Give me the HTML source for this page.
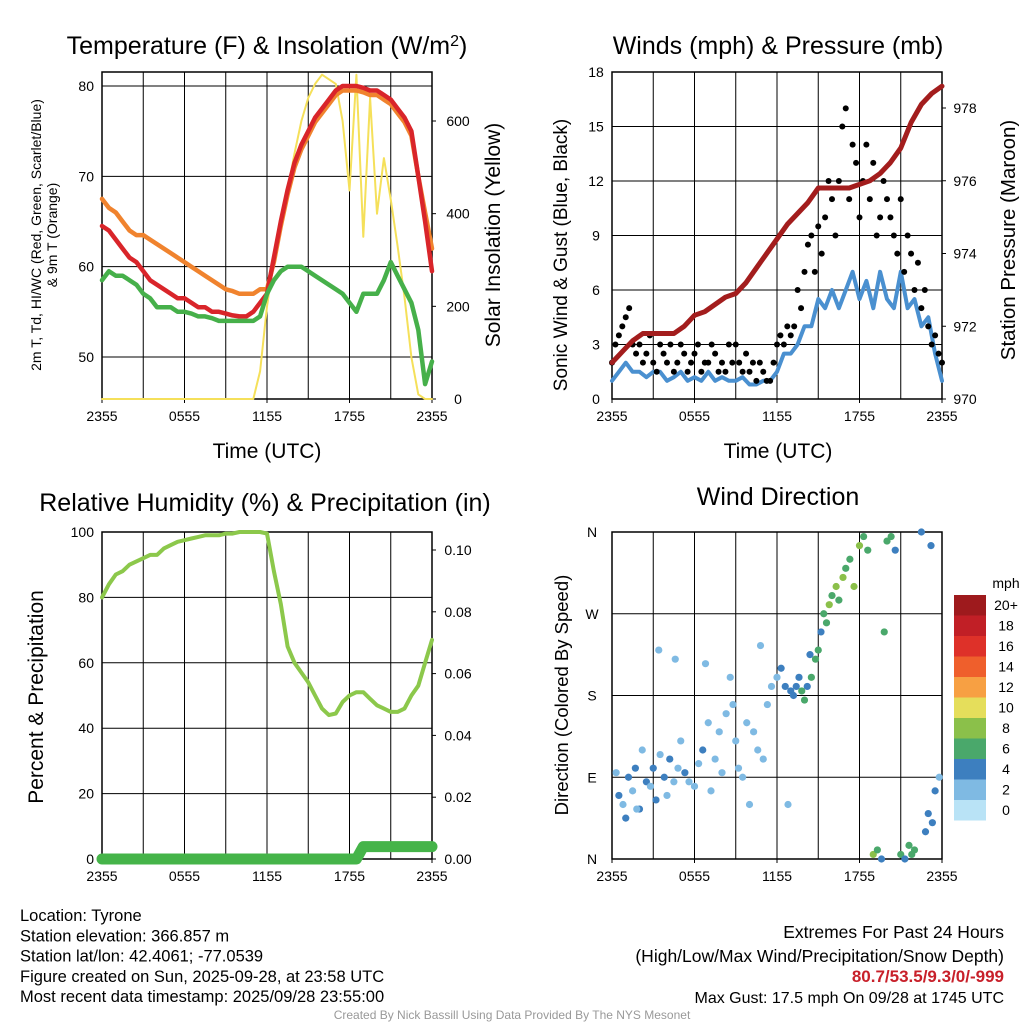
<!DOCTYPE html>
<html><head><meta charset="utf-8"><style>
body{margin:0;background:#fff;font-family:"Liberation Sans",sans-serif}
svg text{font-family:"Liberation Sans",sans-serif;fill:#000}
</style></head><body>
<svg id="c" width="1024" height="1024" viewBox="0 0 1024 1024" xmlns="http://www.w3.org/2000/svg"></svg>
<script>
// ---- data ----
const xTickLabels=["2355","0555","1155","1755","2355"];
const hours30=[];for(let i=0;i<=48;i++)hours30.push(i*0.5);
const tempRed=[64.5,64,63,62,61,60.5,59.5,58.5,58,57.5,57,56.5,56.5,56,55.5,55.5,55,55,54.8,54.6,54.5,54.5,55,56,57,61,65,68.5,71.5,73.5,75,76.5,77.5,78.5,79.5,80,80,80,79.8,79.5,79.5,79,78.5,77.5,76.5,75,70,65,59.5];
const temp9m=[67.5,66.5,66,65,64,63.5,63.5,63,62.5,62,61.5,61,60.5,60,59.5,59,58.5,58,57.5,57.3,57,57,57,57.5,57.5,60.5,64.5,68,71,73,74.5,76,77,78,79,79.5,79.5,79.5,79.3,79,79,78.5,78,77,76,74.5,70,66,62];
const tempDew=[58.5,59.5,59,59,58.5,58,57,56.5,55.5,55.5,55.5,55,55,54.8,54.5,54.5,54.3,54,54,54,54,54,54,54.5,57,58.5,59.5,60,60,60,59.5,59,58.5,58,57.5,57,56,55,57,57,57,58.5,60.5,59,57.5,56,53,47,49.5];
const solar=[0,0,0,0,0,0,0,0,0,0,0,0,0,0,0,0,0,0,0,0,0,0,0,60,200,300,380,450,530,600,650,680,700,690,680,600,450,700,350,650,400,520,430,330,220,90,10,0,0];
const windSpeed=[1,1.5,2,1.5,1.5,1.2,1.5,1.5,1,1.2,1.5,1,1.2,1,1.5,1,1.2,1,1,1.2,0.8,0.8,1,1,1.5,2.5,2.5,3,4,4,5.5,5,6,5,6,7,5.5,6.5,5,7,5.5,5,7,5,5.5,4,4.5,2.5,1];
const gustHours=[];for(let i=0;i<=96;i++)gustHours.push(i*0.25);
const gusts=[2,3,3.5,4,4.5,5,3,2.5,3,2,2.5,3.5,2,1.5,3,2.5,2,3,1.5,2,3,2.5,1.5,2,2.5,3,1.5,2,2,3,2.5,1.5,2,1.5,3,2,3,2,1.5,2.5,1.5,2,1,2,1.5,1,1,2,3,3.5,3,4,3.5,4,6,5,7,8.5,9,7,9.5,8,10,12,11,9,12,15,16,11,14,13,10,12,14,11,13,9,10,12,11,10,9,8,11,7,9,8,6,7.5,5,6,4,3,3.5,2.5,2];
const pressure=[971,971.3,971.6,971.8,971.8,971.8,971.8,972.0,972.3,972.4,972.6,972.8,972.9,973.2,973.6,974.0,974.4,974.8,975.1,975.4,975.8,975.8,975.8,975.8,975.9,976.0,976.2,976.5,976.9,977.6,978.1,978.4,978.6];
const pressHours=[0,0.75,1.5,2.25,3,3.75,4.5,5.25,6,6.75,7.5,8.25,9,9.75,10.5,11.25,12,12.75,13.5,14.25,15,15.75,16.5,17.25,18,18.75,19.5,20.25,21,21.75,22.5,23.25,24];
const rh=[80,84,87,88,90,91,92,93,93,95,96,97,97.5,98,98.5,99,99,99,99.5,99.5,100,100,100,100,99.5,88,78,65,60,57,54,50,46,44,44.5,48,50,51,51,49,47,46,45,45,46,50,53,60,67];
const precip=[0,0,0,0,0,0,0,0,0,0,0,0,0,0,0,0,0,0,0,0,0,0,0,0,0,0,0,0,0,0,0,0,0,0,0,0,0,0,0.004,0.004,0.004,0.004,0.004,0.004,0.004,0.004,0.004,0.004,0.004];
const dirHours=[0.3,0.5,0.8,1,1.2,1.5,1.7,2,2.2,2.5,2.8,3,3.2,3.5,3.8,4,4.2,4.5,4.8,5,5.3,5.6,6,6.3,6.6,7,7.2,7.5,7.8,8,8.3,8.6,9,9.2,9.5,9.8,10,10.3,10.6,11,11.3,11.6,12,12.3,12.6,13,13.2,13.4,13.6,13.8,14,14.2,14.5,14.8,15,15.2,15.4,15.6,15.8,16,16.3,16.5,16.8,17,17.3,17.6,18,18.3,18.6,19,19.3,19.6,20,20.3,20.6,21,21.3,21.6,22,22.5,22.8,23,23.3,23.5,23.8,1.8,3.4,4.6,6.8,8.8,10.8,12.8,14.4,19.8,21.8,23.2];
const dirDeg=[95,70,60,45,90,75,100,55,120,85,80,100,65,115,90,70,110,85,100,130,95,85,80,105,120,150,75,110,140,95,160,200,130,100,90,150,60,140,120,110,170,190,200,210,190,185,180,190,200,185,175,190,200,220,230,250,270,260,280,290,300,285,310,320,330,300,345,355,340,5,10,0,350,355,340,5,0,15,10,360,30,50,40,75,90,55,230,220,215,170,235,60,225,250,5,345,20];
const dirSpeed=[2,3,2,4,3,2,4,3,2,3,2,4,3,1,3,2,3,2,1,2,3,2,1,2,3,2,1,2,1,2,1,1,2,2,1,1,2,1,1,2,1,1,2,3,3,3,4,4,4,5,5,4,5,6,5,4,5,6,7,6,8,6,7,5,6,8,7,5,6,7,5,4,6,5,4,6,4,5,5,3,4,3,4,3,2,1,1,1,2,1,1,1,4,6,5,3];
const cbLabels=["20+","18","16","14","12","10","8","6","4","2","0"];
const cbColors=["#9e1a1d","#c11f26","#de3129","#ef5f2c","#f7a043","#e5de5b","#8bc04a","#4aa86b","#3d7fbf","#7fbae3","#b9e3f6"];

// ---- drawing ----
const S=document.getElementById('c');const NS="http://www.w3.org/2000/svg";
function el(tag,attrs,parent,name,inter){const e=document.createElementNS(NS,tag);for(const k in attrs)e.setAttribute(k,attrs[k]);


(parent||S).appendChild(e);return e;}
function txt(x,y,s,size,anchor,parent,name,rot){const t=el('text',{x:x,y:y,'font-size':size,'text-anchor':anchor||'middle'},parent,name);if(rot)t.setAttribute('transform',`rotate(${rot} ${x} ${y})`);t.textContent=s;return t;}
function panel(x0,x1,y0,y1,name){const g=el('g',{},S,name);
 for(let i=0;i<=8;i++){const x=x0+(x1-x0)*i/8;el('line',{x1:x,x2:x,y1:y0,y2:y1,stroke:'#000','stroke-width':1},g,'grid-v');}
 el('rect',{x:x0,y:y0,width:x1-x0,height:y1-y0,fill:'none',stroke:'#000','stroke-width':1.5},g,'plot-frame');
 xTickLabels.forEach((l,i)=>{const x=x0+(x1-x0)*i/4;txt(x,y1+22,l,14,'middle',g,'x-tick-label');el('line',{x1:x,x2:x,y1:y1,y2:y1+4,stroke:'#000'},g,'x-tick');});
 return g;}
function lin(d0,d1,p0,p1){return v=>p0+(v-d0)*(p1-p0)/(d1-d0);}
function path(xs,ys,fx,fy,color,w,g,name){let d='';xs.forEach((h,i)=>{d+=(i?'L':'M')+fx(h).toFixed(1)+','+fy(ys[i]).toFixed(1);});return el('path',{d:d,fill:'none',stroke:color,'stroke-width':w,'stroke-linejoin':'round','stroke-linecap':'round'},g,name);}

// Panel 1
{const x0=102,x1=432,y0=72,y1=399;const g=panel(x0,x1,y0,y1,'temperature-panel');
 const fx=lin(0,24,x0,x1),fy=lin(50,80,357,86),fs=lin(0,600,399,121);
 [50,60,70,80].forEach(v=>{el('line',{x1:x0,x2:x1,y1:fy(v),y2:fy(v),stroke:'#000'},g,'grid-h');txt(x0-8,fy(v)+5,v,14,'end',g,'y-tick-label');});
 [0,200,400,600].forEach(v=>{txt(x1+26,fs(v)+5,v,14,'middle',g,'y2-tick-label');el('line',{x1:x1,x2:x1+4,y1:fs(v),y2:fs(v),stroke:'#000'},g,'y2-tick');});
 path(hours30,solar,fx,fs,'#f5e05a',2,g,'solar-line');
 path(hours30,temp9m,fx,fy,'#f0832e',4.5,g,'temp-9m-line');
 path(hours30,tempRed,fx,fy,'#d9252a',4.5,g,'temp-2m-line');
 path(hours30,tempDew,fx,fy,'#46b04a',4.5,g,'dewpoint-line');
 const t=txt(267,54,'Temperature (F) & Insolation (W/m',25,'middle',g,'panel-title');
 const sup=document.createElementNS(NS,'tspan');sup.setAttribute('baseline-shift','super');sup.setAttribute('font-size','16');sup.textContent='2';t.appendChild(sup);
 const r=document.createElementNS(NS,'tspan');r.textContent=')';t.appendChild(r);
 txt(267,458,'Time (UTC)',21,'middle',g,'x-axis-title');
 txt(41,235,'2m T, Td, HI/WC (Red, Green, Scarlet/Blue)',14,'middle',g,'y-axis-title',-90);
 txt(57,235,'& 9m T (Orange)',14,'middle',g,'y-axis-title-2',-90);
 txt(500,235,'Solar Insolation (Yellow)',21,'middle',g,'y2-axis-title',-90);}

// Panel 2
{const x0=612,x1=942,y0=72,y1=399;const g=panel(x0,x1,y0,y1,'winds-panel');
 const fx=lin(0,24,x0,x1),fy=lin(0,18,399,72),fp=lin(970,978,399,108);
 [0,3,6,9,12,15,18].forEach(v=>{el('line',{x1:x0,x2:x1,y1:fy(v),y2:fy(v),stroke:'#000'},g,'grid-h');txt(x0-16,fy(v)+5,v,14,'middle',g,'y-tick-label');});
 [970,972,974,976,978].forEach(v=>{txt(x1+23,fp(v)+5,v,14,'middle',g,'y2-tick-label');el('line',{x1:x1,x2:x1+4,y1:fp(v),y2:fp(v),stroke:'#000'},g,'y2-tick');});
 path(hours30,windSpeed,fx,fy,'#4a90d0',4,g,'wind-speed-line');
 gustHours.forEach((h,i)=>{el('circle',{cx:fx(h),cy:fy(gusts[i]),r:3,fill:'#000'},g,'gust-point');});
 path(pressHours,pressure,fx,fp,'#a31d1d',5,g,'pressure-line');
 txt(778,54,'Winds (mph) & Pressure (mb)',25,'middle',g,'panel-title');
 txt(778,458,'Time (UTC)',21,'middle',g,'x-axis-title');
 txt(567,255,'Sonic Wind & Gust (Blue, Black)',19,'middle',g,'y-axis-title',-90);
 txt(1015,240,'Station Pressure (Maroon)',20.5,'middle',g,'y2-axis-title',-90);}

// Panel 3
{const x0=102,x1=432,y0=532,y1=859;const g=panel(x0,x1,y0,y1,'humidity-panel');
 const fx=lin(0,24,x0,x1),fy=lin(0,100,859,532),fr=lin(0,0.1,859,550);
 [0,20,40,60,80,100].forEach(v=>{el('line',{x1:x0,x2:x1,y1:fy(v),y2:fy(v),stroke:'#000'},g,'grid-h');txt(x0-8,fy(v)+5,v,14,'end',g,'y-tick-label');});
 [0,0.02,0.04,0.06,0.08,0.1].forEach(v=>{txt(x1+26,fr(v)+5,v.toFixed(2),14,'middle',g,'y2-tick-label');el('line',{x1:x1,x2:x1+4,y1:fr(v),y2:fr(v),stroke:'#000'},g,'y2-tick');});
 path(hours30,rh,fx,fy,'#8cc84b',4,g,'rh-line');
 path(hours30,precip,fx,fr,'#45b449',11,g,'precip-line');
 txt(265,511,'Relative Humidity (%) & Precipitation (in)',25,'middle',g,'panel-title');
 txt(43,697,'Percent & Precipitation',21,'middle',g,'y-axis-title',-90);}

// Panel 4
{const x0=612,x1=942,y0=532,y1=859;const g=panel(x0,x1,y0,y1,'wind-direction-panel');
 const fx=lin(0,24,x0,x1),fy=lin(0,360,859,532);
 ['N','E','S','W','N'].forEach((l,i)=>{const v=i*90;el('line',{x1:x0,x2:x1,y1:fy(v),y2:fy(v),stroke:'#000'},g,'grid-h');txt(x0-20,fy(v)+5,l,14,'middle',g,'y-tick-label');});
 dirHours.forEach((h,i)=>{const k=Math.min(10,Math.floor((dirSpeed[i]+1)/2));
  el('circle',{cx:fx(h),cy:fy(dirDeg[i]),r:3.6,fill:cbColors[10-k]},g,'direction-point');});
 txt(778,505,'Wind Direction',25,'middle',g,'panel-title');
 txt(568,695,'Direction (Colored By Speed)',18.5,'middle',g,'y-axis-title',-90);
 const cb=el('g',{},g,'colorbar');
 txt(1006,588,'mph',14,'middle',cb,'colorbar-title');
 cbColors.forEach((c,i)=>{const y=595+i*20.5;el('rect',{x:954,y:y,width:32,height:20.5,fill:c},cb,'colorbar-box');txt(1006,y+15,cbLabels[i],14,'middle',cb,'colorbar-label');});}

// Footer
{const g=el('g',{},S,'footer');
 ['Location: Tyrone','Station elevation: 366.857 m','Station lat/lon: 42.4061; -77.0539','Figure created on Sun, 2025-09-28, at 23:58 UTC','Most recent data timestamp: 2025/09/28 23:55:00'].forEach((s,i)=>txt(20,921+i*20.3,s,16.5,'start',g,'station-info'));
 txt(1004,938,'Extremes For Past 24 Hours',17.5,'end',g,'extremes-title');
 txt(1004,962,'(High/Low/Max Wind/Precipitation/Snow Depth)',17.5,'end',g,'extremes-subtitle');
 const e=txt(1004,982,'80.7/53.5/9.3/0/-999',17,'end',g,'extremes-values');e.setAttribute('font-weight','bold');e.style.fill='#c8202a';
 txt(1004,1003,'Max Gust: 17.5 mph On 09/28 at 1745 UTC',16,'end',g,'max-gust');
 const c=txt(512,1019,'Created By Nick Bassill Using Data Provided By The NYS Mesonet',12,'middle',g,'credit');c.style.fill='#999';}
</script>
</body></html>
